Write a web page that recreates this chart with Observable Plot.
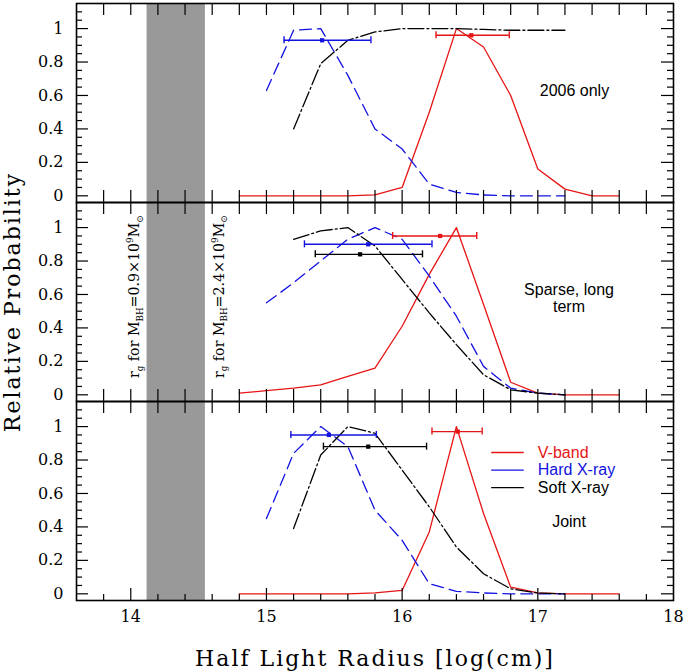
<!DOCTYPE html>
<html><head><meta charset="utf-8">
<script src="https://cdn.jsdelivr.net/npm/d3@7"></script>
<script src="https://cdn.jsdelivr.net/npm/@observablehq/plot@0.6"></script>
<style>body{margin:0;background:#fff;} #chart svg{display:block;}</style>
</head><body><div id="chart"></div>
<script>
// ---------- data ----------
const panels = ["2006 only", "Sparse, long\nterm", "Joint"];
const xV    = [14.8,15.0,15.2,15.4,15.6,15.8,16.0,16.2,16.4,16.6,16.8,17.0,17.2,17.4,17.6];
const xHard = [15.0,15.2,15.4,15.6,15.8,16.0,16.2,16.4,16.6,16.8,17.0,17.2];
const xSoft = [15.2,15.4,15.6,15.8,16.0,16.2,16.4,16.6,16.8,17.0,17.2];

const vband2006   = [0,0,0,0,0,0.005,0.05,0.5,1.0,0.89,0.6,0.16,0.04,0,0];
const vbandSparse = [0.01,0.025,0.04,0.06,0.11,0.16,0.41,0.72,1.0,0.54,0.075,0.01,0,0,0];
const vbandJoint  = [0,0,0,0,0,0.005,0.02,0.37,1.0,0.48,0.04,0.005,0,0,0];

const hard2006   = [0.63,0.99,1.0,0.72,0.4,0.28,0.07,0.02,0.005,0,0,0];
const hardSparse = [0.55,0.67,0.80,0.93,1.0,0.93,0.71,0.47,0.17,0.04,0.01,0];
const hardJoint  = [0.45,0.84,1.0,0.88,0.5,0.32,0.06,0.015,0.005,0,0,0];

const soft2006   = [0.40,0.79,0.93,0.98,1.0,1.0,1.0,0.995,0.99,0.99,0.99];
const softSparse = [0.93,0.98,1.0,0.89,0.69,0.49,0.30,0.12,0.03,0.01,0];
const softJoint  = [0.39,0.83,1.0,0.96,0.74,0.52,0.28,0.12,0.03,0.005,0];

const seriesNames = ["V-band", "Hard X-ray", "Soft X-ray"];
// best-fit radius with range, per panel: [V-band, Hard, Soft]
const fitCenter = [[16.51,15.41,null],[16.28,15.75,15.69],[16.41,15.46,15.75]];
const fitLow    = [[16.25,15.13,null],[15.93,15.28,15.36],[16.22,15.18,15.42]];
const fitHigh   = [[16.79,15.77,null],[16.55,16.22,16.15],[16.59,15.81,16.18]];
const fitProb   = [[0.96,0.93,null],[0.95,0.90,0.84],[0.97,0.95,0.88]];

const bandEdges = [14.12, 14.55];     // log r_g for the two BH masses
const bhMasses  = ["0.9", "2.4"];
const xTickLabels = [14, 15, 16, 17, 18];
const yTickLabels = [0, 0.2, 0.4, 0.6, 0.8, 1];
const xTitle = "Half Light Radius [log(cm)]";
const yTitle = "Relative Probability";

// ---------- layout ----------
const W = 686, H = 672, mL = 76, mR = 13, mT = 2, mB = 72;
const xDomain = [13.6, 18], yDomain = [-0.04, 1.15];
const panelH = (H - mT - mB) / 3;
const pxY = (yDomain[1] - yDomain[0]) / panelH;
const pxX = (xDomain[1] - xDomain[0]) / (W - mL - mR);

const colors = {"V-band": "#e61414", "Hard X-ray": "#1212e0", "Soft X-ray": "#000000"};
const dashes = {"V-band": null, "Hard X-ray": "12,6", "Soft X-ray": "16,3,2,3"};

const curves = [];
const addCurve = (panel, series, xs, ys) => xs.forEach((x, i) => curves.push({panel, series, x, y: ys[i]}));
addCurve(panels[0], "V-band", xV, vband2006);
addCurve(panels[1], "V-band", xV, vbandSparse);
addCurve(panels[2], "V-band", xV, vbandJoint);
addCurve(panels[0], "Hard X-ray", xHard, hard2006);
addCurve(panels[1], "Hard X-ray", xHard, hardSparse);
addCurve(panels[2], "Hard X-ray", xHard, hardJoint);
addCurve(panels[0], "Soft X-ray", xSoft, soft2006);
addCurve(panels[1], "Soft X-ray", xSoft, softSparse);
addCurve(panels[2], "Soft X-ray", xSoft, softJoint);

const fits = [];
panels.forEach((p, i) => seriesNames.forEach((s, j) => {
  if (fitCenter[i][j] != null) fits.push({panel: p, series: s, x: fitCenter[i][j], lo: fitLow[i][j], hi: fitHigh[i][j], y: fitProb[i][j]});
}));
const caps = fits.flatMap(d => [{...d, cx: d.lo}, {...d, cx: d.hi}]);

// tick marks
const xMinor = d3.range(69, 90).map(k => k / 5).filter(v => v > xDomain[0] + 1e-9 && v < xDomain[1] - 1e-9);
const isMajorX = v => Math.abs(v - Math.round(v)) < 1e-9;
const yMinor = d3.range(0, 23).map(k => k / 20);
const isMajorY = v => Math.abs(v * 5 - Math.round(v * 5)) < 1e-9;
const bottomTicks = panels.flatMap((p, i) => xMinor.map(x => ({panel: p, x, len: (i < 2 || isMajorX(x)) ? 12 : 6})));

const fontSerif = "DejaVu Serif";
const fontSans = "Liberation Sans, Arial, Helvetica, sans-serif";

const panelLabels = [
  {panel: panels[0], x: 17.27, y: 0.63},
  {panel: panels[1], x: 17.23, y: 0.58},
  {panel: panels[2], x: 17.23, y: 0.43}
];
const rgLabels = bhMasses.map((m, i) => ({
  panel: panels[1],
  x: i === 0 ? bandEdges[0] - 0.095 : bandEdges[1] + 0.10,
  y: 0.1,
  text: `r_g for M_{BH}=${m}×10^9M_⊙`
}));
const legendRows = seriesNames.map((s, i) => ({panel: panels[2], series: s, y: 0.845 - i * 0.105}));

const plot = Plot.plot({
  width: W, height: H,
  marginLeft: mL, marginRight: mR, marginTop: mT, marginBottom: mB,
  style: {fontFamily: fontSerif, fontSize: "16px", background: "#fff", overflow: "visible"},
  x: {domain: xDomain, label: null},
  y: {domain: yDomain, label: null},
  fy: {domain: panels, padding: 0, axis: null, label: null},
  marks: [
    Plot.rect([bandEdges], {x1: d => d[0], x2: d => d[1], y1: yDomain[0], y2: yDomain[1], fill: "#999999"}),
    // curves
    ...seriesNames.map(s => Plot.line(curves.filter(d => d.series === s), {
      x: "x", y: "y", fy: "panel", stroke: colors[s], strokeWidth: 1.3, strokeDasharray: dashes[s]
    })),
    // best-fit error bars
    Plot.ruleY(fits, {x1: "lo", x2: "hi", y: "y", fy: "panel", stroke: d => colors[d.series], strokeWidth: 1.4}),
    Plot.ruleX(caps, {x: "cx", y1: d => d.y - 3.5 * pxY, y2: d => d.y + 3.5 * pxY, fy: "panel", stroke: d => colors[d.series], strokeWidth: 1.4}),
    Plot.dot(fits, {x: "x", y: "y", fy: "panel", symbol: "square", r: 2.4, fill: d => colors[d.series], stroke: null}),
    // x tick marks: top (all long), bottom
    Plot.ruleX(xMinor, {x: d => d, y1: yDomain[1], y2: yDomain[1] - 12 * pxY, stroke: "black", strokeWidth: 1.2}),
    Plot.ruleX(bottomTicks, {x: "x", fy: "panel", y1: yDomain[0], y2: d => yDomain[0] + d.len * pxY, stroke: "black", strokeWidth: 1.2}),
    // y tick marks: left and right
    Plot.ruleY(yMinor, {y: d => d, x1: xDomain[0], x2: d => xDomain[0] + (isMajorY(d) ? 12 : 6) * pxX, stroke: "black", strokeWidth: 1.2}),
    Plot.ruleY(yMinor, {y: d => d, x1: xDomain[1], x2: d => xDomain[1] - (isMajorY(d) ? 12 : 6) * pxX, stroke: "black", strokeWidth: 1.2}),
    Plot.frame({stroke: "black", strokeWidth: 1.6}),
    // axes labels
    Plot.axisY(yTickLabels, {tickSize: 0, tickPadding: 13, tickFormat: d => String(d), fontSize: 16, fontFamily: fontSerif, label: null}),
    Plot.axisX(xTickLabels, {tickSize: 0, tickPadding: 10, tickFormat: d => String(d), fontSize: 16, fontFamily: fontSerif, label: null}),
    Plot.text([xTitle], {fy: () => panels[2], frameAnchor: "bottom", dy: 58, text: d => d, textAnchor: "middle", fontSize: 22, fontFamily: fontSerif, lineAnchor: "middle", fill: "black"}),
    Plot.text([yTitle], {fy: () => panels[1], frameAnchor: "left", dx: -64, rotate: -90, text: d => d, textAnchor: "middle", fontSize: 22, fontFamily: fontSerif, lineAnchor: "middle", fill: "black"}),
    // panel labels
    Plot.text(panelLabels, {x: "x", y: "y", fy: "panel", text: "panel", fontSize: 16, fontFamily: fontSans, lineHeight: 1.05, fill: "black"}),
    // r_g labels
    Plot.text(rgLabels, {x: "x", y: "y", fy: "panel", text: "text", rotate: -90, textAnchor: "start", lineAnchor: "middle", fontSize: 14.2, fontFamily: fontSerif, fill: "black"}),
    // legend
    Plot.ruleY(legendRows, {y: "y", fy: "panel", x1: 16.66, x2: 16.90, stroke: d => colors[d.series], strokeDasharray: d => dashes[d.series], strokeWidth: 1.3}),
    Plot.text(legendRows, {x: 17.0, y: "y", fy: "panel", text: "series", textAnchor: "start", fontSize: 16, fontFamily: fontSans, fill: d => colors[d.series]})
  ]
});

// rich text: _x or _{xx} subscripts, ^x superscripts; wide spacing for axis titles
d3.select(plot).selectAll("text").each(function() {
  const s = this.textContent;
  if (s === xTitle || s === yTitle) { this.setAttribute("letter-spacing", "2px"); return; }
  if (this.querySelector("tspan")) return;
  if (!/[_^]/.test(s)) return;
  this.textContent = "";
  const re = /([_^])(\{[^}]*\}|.)|([^_^]+)/g;
  let m, shift = 0;
  while ((m = re.exec(s))) {
    const t = document.createElementNS("http://www.w3.org/2000/svg", "tspan");
    if (m[3]) {
      t.textContent = m[3];
      if (shift) t.setAttribute("dy", -shift);
      shift = 0;
    } else {
      const sh = m[1] === "_" ? 4 : -6;
      t.textContent = m[2].replace(/[{}]/g, "");
      t.setAttribute("font-size", "0.62em");
      t.setAttribute("dy", sh - shift);
      shift = sh;
    }
    this.appendChild(t);
  }
});

document.getElementById("chart").appendChild(plot);
</script>
</body></html>
